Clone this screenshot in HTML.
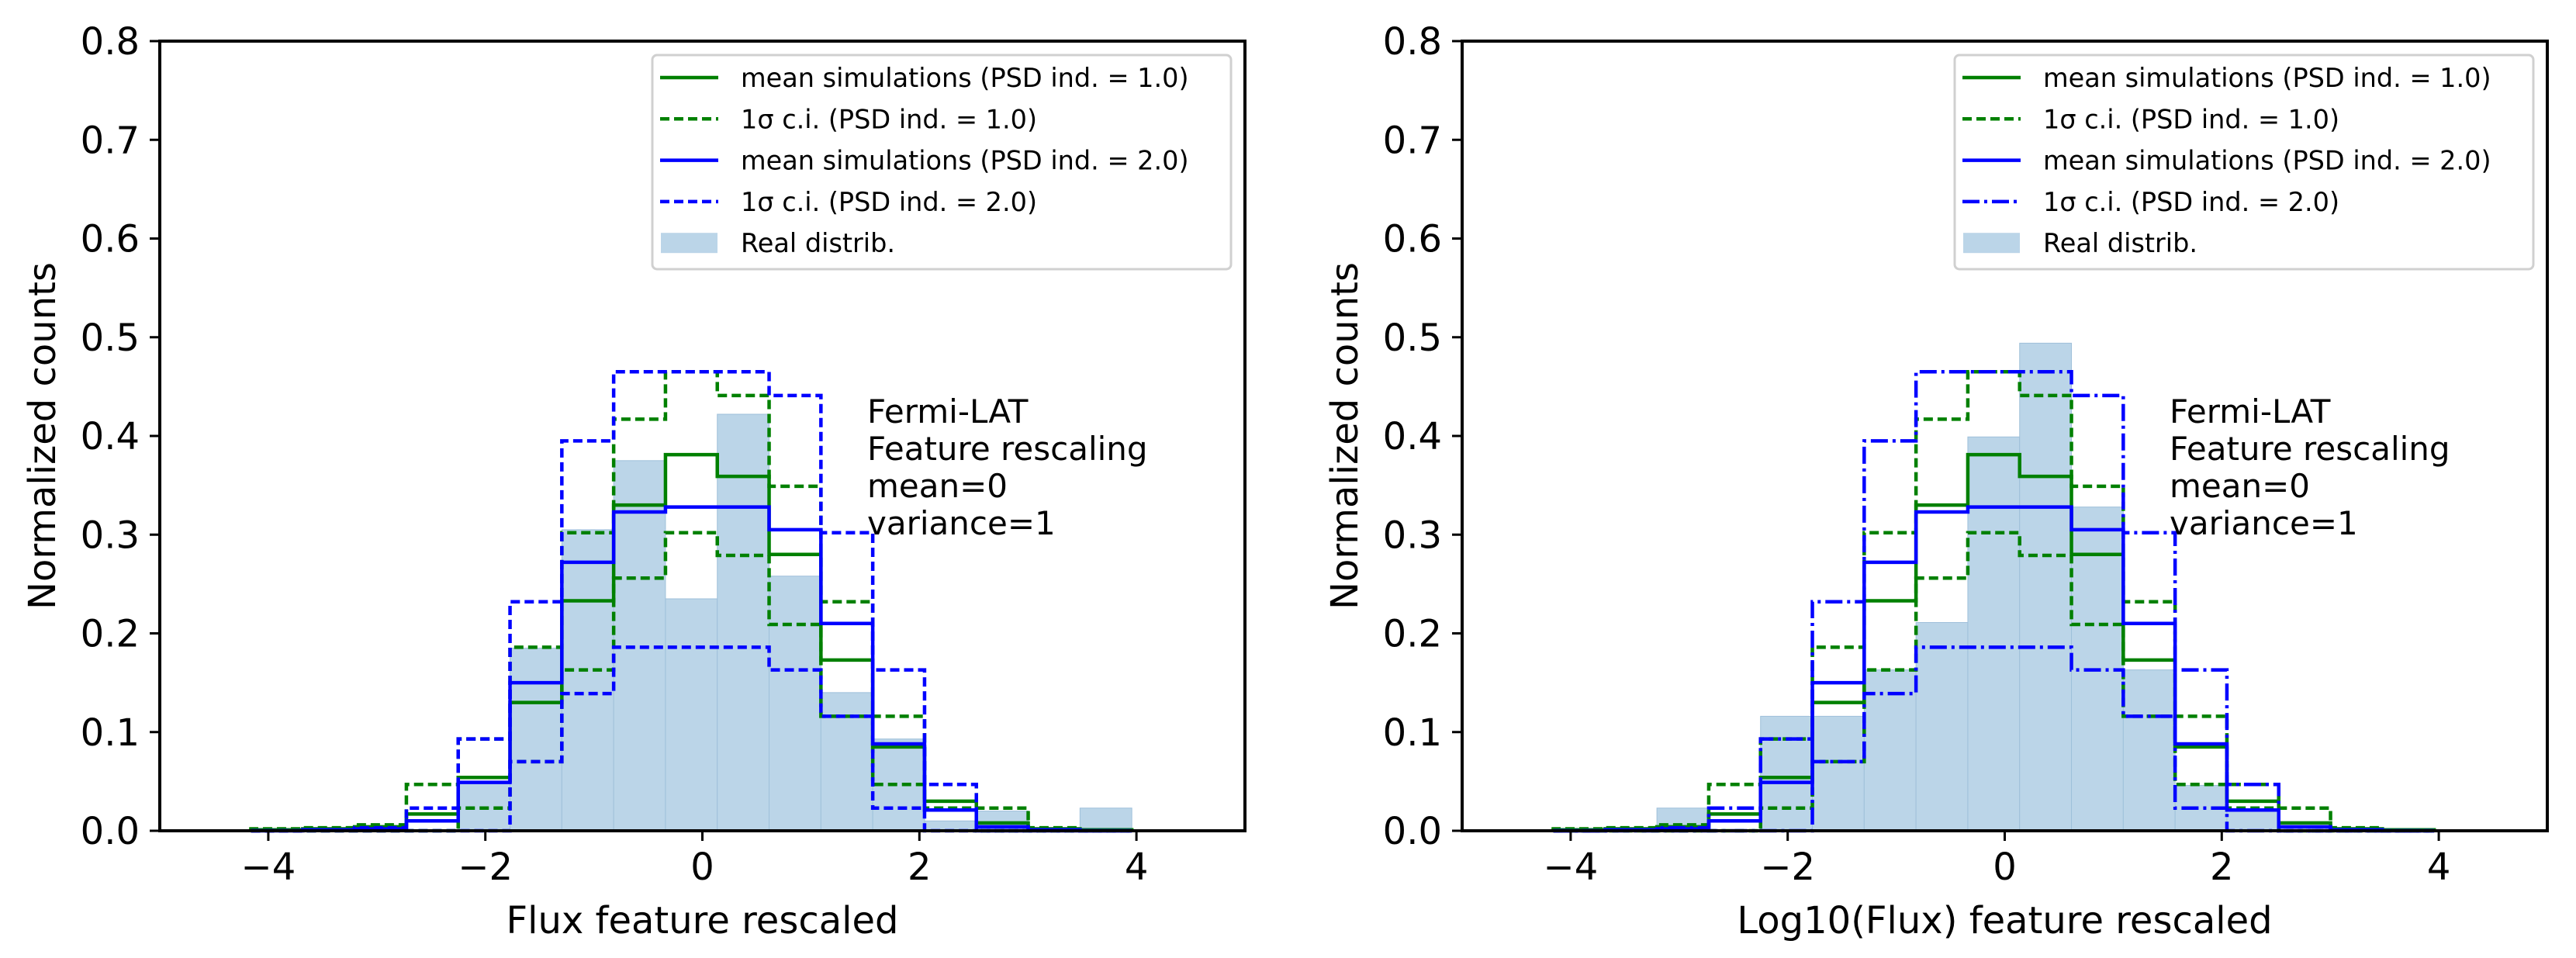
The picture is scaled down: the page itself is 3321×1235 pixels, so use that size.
<!DOCTYPE html>
<html><head><meta charset="utf-8">
<style>
html,body{margin:0;padding:0;background:#fff;}
svg{display:block;font-family:"DejaVu Sans","Liberation Sans",sans-serif;}
</style></head>
<body>
<svg id="fig" width="3321" height="1235" viewBox="0 0 3321 1235" xmlns="http://www.w3.org/2000/svg"></svg>
<script>
// ---- data ----
const binEdges = [-4.16,-3.6825,-3.205,-2.7275,-2.25,-1.7725,-1.295,-0.8175,-0.34,0.1375,0.615,1.0925,1.57,2.0475,2.525,3.0025,3.48,3.9575];
const meanPsd1 = [0.001,0.002,0.004,0.017,0.054,0.130,0.233,0.330,0.381,0.359,0.280,0.173,0.085,0.030,0.008,0.002,0.001];
const upperPsd1 = [0.002,0.003,0.006,0.047,0.093,0.186,0.302,0.417,0.465,0.441,0.349,0.232,0.116,0.047,0.023,0.003,0.001];
const lowerPsd1 = [0,0,0,0,0.023,0.070,0.163,0.256,0.302,0.279,0.209,0.116,0.047,0.023,0,0,0];
const meanPsd2 = [0,0.001,0.002,0.010,0.049,0.150,0.272,0.323,0.328,0.328,0.305,0.210,0.088,0.021,0.004,0.001,0];
const upperPsd2 = [0,0.001,0.003,0.023,0.093,0.232,0.395,0.465,0.465,0.465,0.441,0.302,0.163,0.047,0,0,0];
const lowerPsd2 = [0,0,0,0,0,0.070,0.139,0.186,0.186,0.186,0.163,0.116,0.023,0,0,0,0];
const realLeft = [0,0,0,0,0.05,0.185,0.305,0.375,0.235,0.422,0.258,0.140,0.093,0.01,0.02,0,0.023];
const realRight = [0,0,0.023,0,0.116,0.116,0.163,0.211,0.399,0.494,0.328,0.163,0.046,0.02,0,0,0];
const xTicks = [-4,-2,0,2,4];
const yTicks = [0.0,0.1,0.2,0.3,0.4,0.5,0.6,0.7,0.8];
const legendLabels = ["mean simulations (PSD ind. = 1.0)","1σ c.i. (PSD ind. = 1.0)","mean simulations (PSD ind. = 2.0)","1σ c.i. (PSD ind. = 2.0)","Real distrib."];
const annotation = ["Fermi-LAT","Feature rescaling","mean=0","variance=1"];

const NS="http://www.w3.org/2000/svg";
const svg=document.getElementById('fig');
function mk(tag,attrs,parent){const e=document.createElementNS(NS,tag);for(const k in attrs)e.setAttribute(k,attrs[k]);(parent||svg).appendChild(e);return e;}

function panel(ox,real,xlabel,ciDash2,pname){
  const L=ox, R=ox+1399, T=53, B=1071;
  const g=mk('g',{});
  
  
  const xs=v=>L+(v+5)/10*(R-L);
  const ys=v=>B-v/0.8*(B-T);
  const bars=mk('g',{},g);
  
  
  for(let i=0;i<real.length;i++){
    if(real[i]<=0)continue;
    const r=mk('rect',{x:xs(binEdges[i]),y:ys(real[i]),width:xs(binEdges[i+1])-xs(binEdges[i]),height:B-ys(real[i]),fill:'#bbd5e8',stroke:'#9fc0da','stroke-width':1},bars);
    
    
  }
  function step(vals,color,dash,name){
    let d='M'+xs(binEdges[0])+','+ys(0);
    for(let i=0;i<vals.length;i++){d+=' L'+xs(binEdges[i])+','+ys(vals[i])+' L'+xs(binEdges[i+1])+','+ys(vals[i]);}
    d+=' L'+xs(binEdges[vals.length])+','+ys(0);
    const p=mk('path',{d:d,fill:'none',stroke:color,'stroke-width':4.5,'stroke-dasharray':dash||'none','stroke-linejoin':'miter'},g);
    
    
  }
  step(meanPsd1,'#008000',null,'mean-psd1-line');
  step(upperPsd1,'#008000','12,6','upper-ci-psd1-line');
  step(lowerPsd1,'#008000','12,6','lower-ci-psd1-line');
  step(meanPsd2,'#0000ff',null,'mean-psd2-line');
  step(upperPsd2,'#0000ff',ciDash2,'upper-ci-psd2-line');
  step(lowerPsd2,'#0000ff',ciDash2,'lower-ci-psd2-line');
  const fr=mk('rect',{x:L,y:T,width:R-L,height:B-T,fill:'none',stroke:'#000','stroke-width':4},g);
  
  
  for(const t of xTicks){
    mk('line',{x1:xs(t),x2:xs(t),y1:B,y2:B+13,stroke:'#000','stroke-width':3},g);
    const tx=mk('text',{x:xs(t),y:B+63,'font-size':48,'text-anchor':'middle'},g);
    tx.textContent=(t<0?'\u2212'+(-t):String(t));
    
    
  }
  for(const t of yTicks){
    mk('line',{x1:L-13,x2:L,y1:ys(t),y2:ys(t),stroke:'#000','stroke-width':3},g);
    const ty=mk('text',{x:L-26,y:ys(t)+17,'font-size':48,'text-anchor':'end'},g);
    ty.textContent=t.toFixed(1);
    
    
  }
  const xl=mk('text',{x:(L+R)/2,y:1203,'font-size':48,'text-anchor':'middle'},g);
  xl.textContent=xlabel;
  
  
  const yl=mk('text',{x:0,y:0,'font-size':48,'text-anchor':'middle',transform:'translate('+(L-135)+','+((T+B)/2)+') rotate(-90)'},g);
  yl.textContent='Normalized counts';
  
  
  annotation.forEach((s,i)=>{
    const a=mk('text',{x:L+912,y:545+i*48,'font-size':42},g);
    a.textContent=s;
    
    
  });
  const lg=mk('g',{},g);
  
  
  const lx=L+635;
  mk('rect',{x:lx,y:71,width:746,height:276,rx:6,fill:'#fff','fill-opacity':0.8,stroke:'#d0d0d0','stroke-width':3},lg);
  const cols=['#008000','#008000','#0000ff','#0000ff'];
  const dashes=[null,'12,6',null,ciDash2];
  legendLabels.forEach((s,i)=>{
    const cy=100+i*53.3;
    if(i<4){
      mk('line',{x1:lx+10,x2:lx+85,y1:cy,y2:cy,stroke:cols[i],'stroke-width':4.5,'stroke-dasharray':dashes[i]||'none'},lg);
    } else {
      mk('rect',{x:lx+11,y:cy-13,width:73,height:26,fill:'#bbd5e8'},lg);
    }
    const t=mk('text',{x:lx+114,y:cy+12,'font-size':33.5},lg);
    t.textContent=s;
    
    
  });
}
panel(206,realLeft,'Flux feature rescaled','12,6','left-panel');
panel(1885,realRight,'Log10(Flux) feature rescaled','22,6,4,6','right-panel');
</script>
</body></html>
